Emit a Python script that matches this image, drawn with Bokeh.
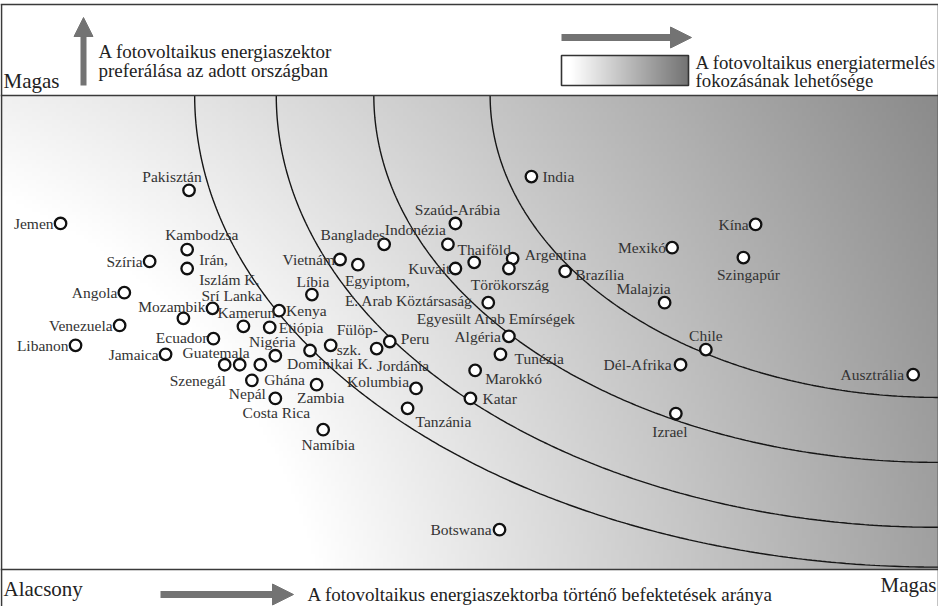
import numpy as np
from bokeh.plotting import figure
from bokeh.models import Range1d, ColumnDataSource, Arrow, NormalHead
from bokeh.core.properties import value
from bokeh.embed import file_html
from bokeh.resources import INLINE

# ---------------- data ----------------
countries = ["Pakisztán", "Jemen", "Kambodzsa", "Irán,\nIszlám K.", "Szíria", "Angola", "Mozambik",
             "Srí Lanka", "Venezuela", "Libanon", "Ecuador", "Jamaica", "Kamerun", "Kenya", "Etiópia",
             "Nigéria", "Szenegál", "Guatemala", "Ghána", "Nepál", "Costa Rica", "Dominikai K.",
             "Zambia", "Namíbia", "Líbia", "Vietnám", "Egyiptom,\nE. Arab Köztársaság", "Banglades",
             "Indonézia", "Szaúd-Arábia", "Thaiföld", "Kuvait", "Argentina", "Törökország", "Brazília",
             "India", "Fülöp-\nszk.", "Peru", "Jordánia", "Kolumbia", "Tanzánia",
             "Egyesült Arab Emírségek", "Algéria", "Tunézia", "Marokkó", "Katar", "Botswana",
             "Mexikó", "Kína", "Szingapúr", "Malajzia", "Chile", "Dél-Afrika", "Izrael", "Ausztrália"]
# x: share of investment in the PV sector (0 = low, 100 = high)
invest = [20.1, 6.4, 19.9, 19.9, 15.9, 13.2, 19.5, 22.6, 12.7, 8.0, 22.7, 17.6, 25.9, 29.7, 28.7,
          29.3, 23.9, 25.5, 27.7, 26.8, 29.3, 33.0, 33.7, 34.4, 33.2, 36.2, 38.1, 40.9,
          47.7, 48.5, 50.5, 48.5, 54.6, 54.2, 60.2, 56.6, 35.2, 41.5, 40.1, 44.3, 43.4,
          52.0, 54.2, 53.3, 50.6, 50.1, 53.2, 71.6, 80.5, 79.2, 70.8, 75.2, 72.5, 72.0, 97.3]
# y: preference of the PV sector in the given country (0 = low, 100 = high)
prefer = [80.0, 73.0, 67.5, 63.5, 65.0, 58.4, 53.0, 55.1, 51.5, 47.3, 48.7, 45.4, 51.3, 54.6, 51.1,
          45.1, 43.2, 43.2, 43.2, 39.9, 36.1, 46.2, 39.0, 29.5, 58.0, 65.4, 64.3, 68.6,
          68.6, 73.0, 64.8, 63.5, 65.6, 63.5, 62.9, 82.9, 47.3, 48.1, 46.6, 38.2, 34.0,
          56.3, 49.2, 45.4, 42.0, 36.1, 8.4, 67.9, 72.8, 65.8, 56.3, 46.4, 43.2, 32.9, 41.1]
# concentric contour arcs (semi-axes, centred on the high/high corner)
arc_rx = [79.3, 70.6, 60.2, 47.8]
arc_ry = [99.5, 91.1, 77.4, 63.7]

# label placement (style): alignment, pixel offset right, pixel offset down
label_place = [
    ("center", -17, -14), ("right", -7, 0), ("left", -22, -15), ("left", 12, 1), ("right", -7, 0),
    ("right", -7, 0), ("right", 22, -12), ("left", -11, -13), ("right", -7, 0), ("right", -7, 0),
    ("right", -6, -1), ("right", -7, 0), ("center", 3, -14), ("left", 7, 0), ("left", 9, 0),
    ("center", -3, -14), ("right", 1, 16), ("right", 10, -12), ("left", 4, 15), ("right", 14, 13),
    ("center", 1, 14), ("left", -23, 13), ("center", 4, 13), ("center", 5, 15), ("center", 1, -13),
    ("right", -5, 0), ("left", -13, 26), ("right", 1, -10), ("right", -2, -15), ("center", 2, -14),
    ("center", 10, -13), ("right", -5, 0), ("left", 12, -4), ("center", 1, 16), ("left", 10, 3),
    ("left", 11, 0), ("left", 6, -6), ("left", 11, -3), ("left", 0, 17), ("right", -7, -7),
    ("left", 8, 13), ("center", 8, 16), ("right", -8, 0), ("left", 14, 4), ("left", 10, 8),
    ("left", 12, 0), ("right", -8, 0), ("right", -6, 0), ("right", -7, 0), ("center", 5, 17),
    ("right", 6, -14), ("center", 0, -14), ("right", -9, 0), ("center", -6, 18), ("right", -9, 0),
]

# ---------------- layout constants (page pixels) ----------------
W, H = 938, 606          # figure on page from (8,8)
PX0, PX1 = 8, 946        # plot area left/right on page
PT, PB = 103, 577        # plot area top/bottom on page
def fx(px): return px - 8
def fy(py): return 8 + H - py
SX = (PX1 - PX0) / 100.0
SY = (PB - PT) / 100.0
def dy_of(py): return (PB - py) / SY

FONT = value("Liberation Serif")
GRAY = "#737373"
LINE = "#3a3a3a"

p = figure(width=W, height=H, x_range=Range1d(0, W), y_range=Range1d(0, H),
           x_axis_location=None, y_axis_location=None, min_border=0,
           output_backend="svg", toolbar_location=None)
p.xgrid.grid_line_color = None
p.ygrid.grid_line_color = None
p.outline_line_color = None
p.background_fill_color = "white"
p.border_fill_color = "white"
p.extra_x_ranges = {"d": Range1d(0, 100)}
p.extra_y_ranges = {"d": Range1d(dy_of(8 + H), dy_of(8))}

# ---------------- background gradient of the plot area ----------------
nx, ny = 235, 119
ii = (np.arange(nx) + 0.5) / nx
jj = (np.arange(ny) + 0.5) / ny
PXg = PX0 + ii[None, :] * (PX1 - PX0)
PYg = PB - jj[:, None] * (PB - PT)
dist = np.hypot(PXg + 200.0, PYg - 700.0)
g = np.clip(255 - 0.155 * (dist - 540.0), 0, 255).astype(np.uint8)
img = np.empty((ny, nx), dtype=np.uint32)
v = img.view(dtype=np.uint8).reshape((ny, nx, 4))
v[..., 0] = g; v[..., 1] = g; v[..., 2] = g; v[..., 3] = 255
p.image_rgba(image=[img], x=0, y=0, dw=100, dh=100, x_range_name="d", y_range_name="d")

# ---------------- contour arcs (lower-left quarter of each ellipse) ----------------
ang = np.linspace(0, np.pi / 2, 240)
arc_xs = [list(100 - rx * np.cos(ang)) for rx in arc_rx]
arc_ys = [list(100 - ry * np.sin(ang)) for ry in arc_ry]
p.multi_line(xs=arc_xs, ys=arc_ys, line_color="#161616", line_width=1.4,
             x_range_name="d", y_range_name="d")

# ---------------- frame lines ----------------
p.segment(x0=[fx(8), fx(9), fx(946), fx(8), fx(8)],
          y0=[fy(12), fy(12), fy(12), fy(PT), fy(PB)],
          x1=[fx(946), fx(9), fx(946), fx(946), fx(946)],
          y1=[fy(12), 0, 0, fy(PT), fy(PB)],
          line_color=LINE, line_width=1.6)

# ---------------- header ----------------
p.add_layout(Arrow(end=NormalHead(size=19, fill_color=GRAY, line_color=GRAY),
                   x_start=fx(91), y_start=fy(93), x_end=fx(91), y_end=fy(25),
                   line_color=GRAY, line_width=6))
p.add_layout(Arrow(end=NormalHead(size=21, fill_color=GRAY, line_color=GRAY),
                   x_start=fx(569), y_start=fy(45), x_end=fx(699), y_end=fy(45),
                   line_color=GRAY, line_width=7))
nb = 127
t = (np.arange(nb) + 0.5) / nb
gb = np.clip(255 - (t - 0.08) / 0.92 * 140, 110, 255).astype(np.uint8)
bimg = np.empty((1, nb), dtype=np.uint32)
bv = bimg.view(dtype=np.uint8).reshape((1, nb, 4))
bv[..., 0] = gb; bv[..., 1] = gb; bv[..., 2] = gb; bv[..., 3] = 255
p.image_rgba(image=[bimg], x=fx(569), y=fy(93), dw=127, dh=30)
p.quad(left=fx(569), right=fx(696), bottom=fy(93), top=fy(63), fill_color=None,
       line_color="#333333", line_width=1.6)

p.text(x=[fx(11)], y=[fy(88)], text=["Magas"], text_font=FONT, text_font_size="21px",
       text_align="left", text_baseline="middle", text_color="#222222")
p.text(x=[fx(106), fx(106)], y=[fy(59), fy(78)],
       text=["A fotovoltaikus energiaszektor", "preferálása az adott országban"],
       text_font=FONT, text_font_size="19px", text_align="left", text_baseline="middle",
       text_color="#222222")
p.text(x=[fx(703), fx(703)], y=[fy(70), fy(88)],
       text=["A fotovoltaikus energiatermelés", "fokozásának lehetősége"],
       text_font=FONT, text_font_size="18.8px", text_align="left", text_baseline="middle",
       text_color="#222222")

# ---------------- footer ----------------
p.text(x=[fx(11)], y=[fy(596)], text=["Alacsony"], text_font=FONT, text_font_size="21px",
       text_align="left", text_baseline="middle", text_color="#222222")
p.text(x=[fx(944)], y=[fy(592)], text=["Magas"], text_font=FONT, text_font_size="21px",
       text_align="right", text_baseline="middle", text_color="#222222")
p.add_layout(Arrow(end=NormalHead(size=21, fill_color=GRAY, line_color=GRAY),
                   x_start=fx(168), y_start=fy(602), x_end=fx(301), y_end=fy(602),
                   line_color=GRAY, line_width=7))
p.text(x=[fx(315)], y=[fy(602)], text=["A fotovoltaikus energiaszektorba történő befektetések aránya"],
       text_font=FONT, text_font_size="19px", text_align="left", text_baseline="middle",
       text_color="#222222")

# ---------------- countries ----------------
p.scatter(x=invest, y=prefer, size=11.5, marker="circle", fill_color="white",
          line_color="#111111", line_width=2.3, x_range_name="d", y_range_name="d")

for align in ("left", "right", "center"):
    idx = [i for i, lp in enumerate(label_place) if lp[0] == align]
    src = ColumnDataSource(dict(
        x=[invest[i] for i in idx], y=[prefer[i] for i in idx],
        text=[countries[i] for i in idx],
        dx=[label_place[i][1] for i in idx], dy=[label_place[i][2] for i in idx]))
    p.text(x="x", y="y", text="text", x_offset="dx", y_offset="dy", source=src,
           text_font=FONT, text_font_size="15.5px", text_align=align, text_baseline="middle",
           text_color="#333333", text_line_height=1.15, x_range_name="d", y_range_name="d")

open("out.html", "w").write(file_html(p, INLINE))
